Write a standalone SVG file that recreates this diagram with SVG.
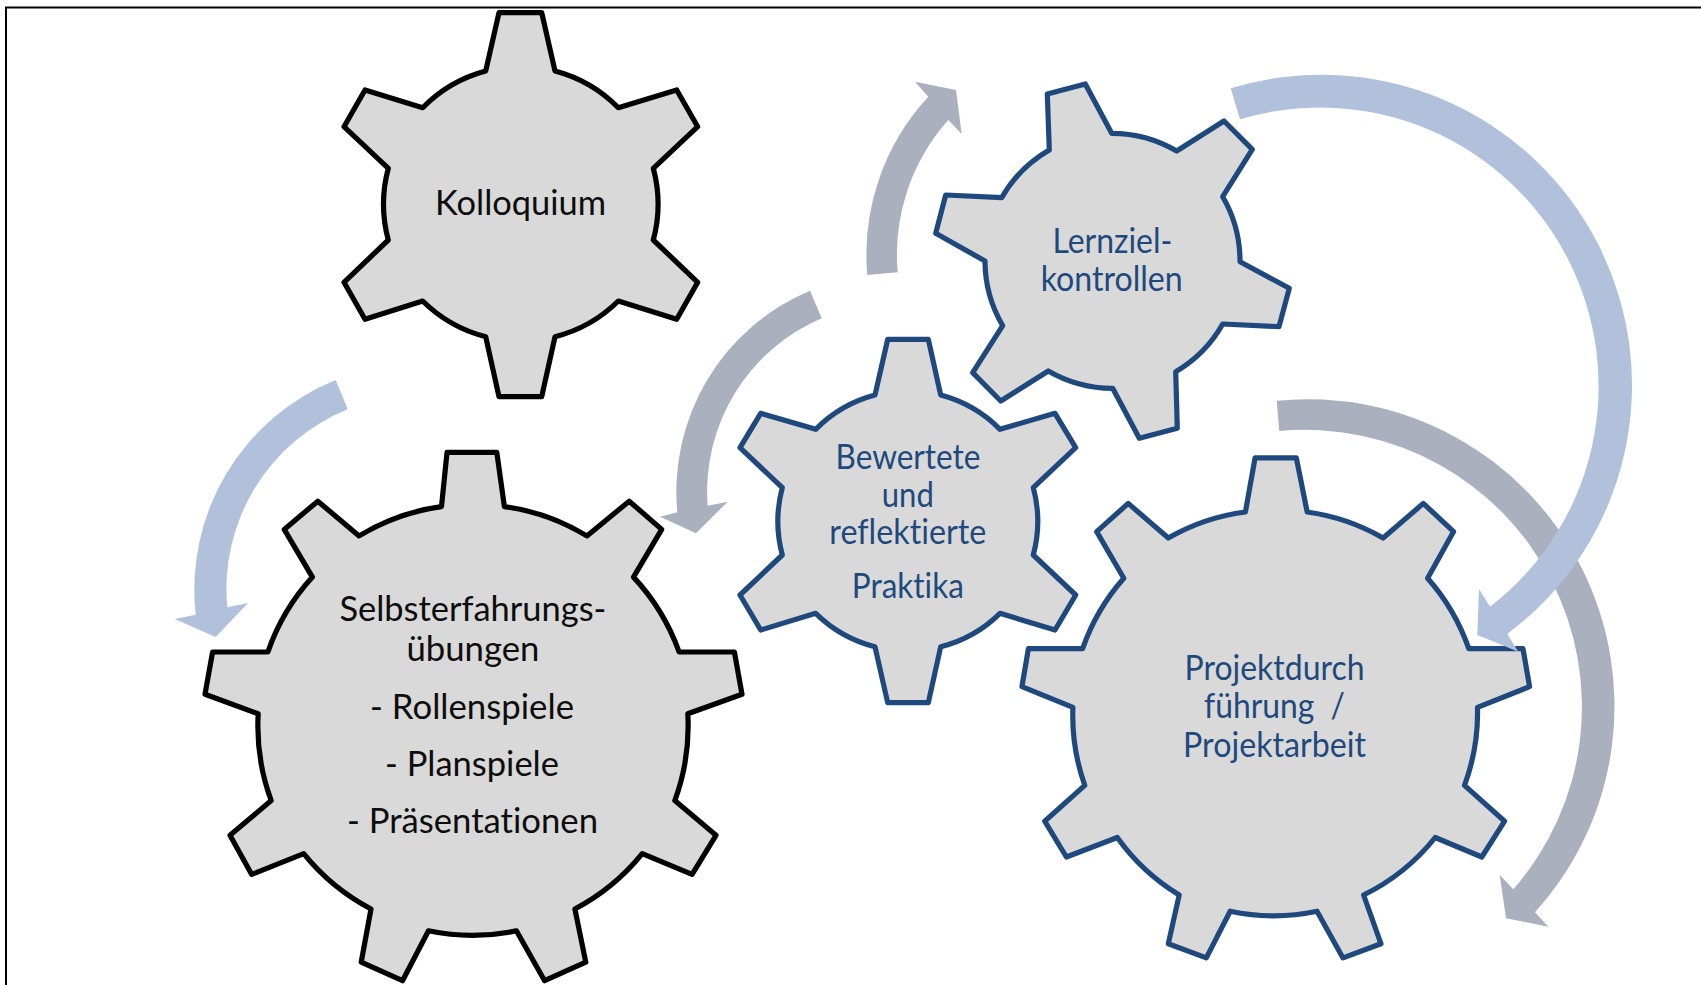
<svg xmlns="http://www.w3.org/2000/svg" width="1701" height="985" viewBox="0 0 1701 985">
<style>
.g{fill:#D9D9D9;stroke-width:5.2;stroke-linejoin:round}
.k{stroke:#000}
.n{stroke:#1F497D}
text{font-family:"Lato","Open Sans",sans-serif;font-size:34px;text-anchor:middle;font-variant-ligatures:none}
.tk{fill:#0d0d0d}
.tn{fill:#1F497D}
.b{fill:#B1C1DC}
.y{fill:#ABB0BE}
</style>
<rect width="1701" height="985" fill="#fff"/>
<path d="M1701 7.5H6V985" fill="none" stroke="#000" stroke-width="2"/>
<g id="node-kolloquium">
<path class="g k" d="M499 12.7H541.7L555 71A138 138 0 0 1 618.3 107.7L676.7 90L697.7 126.7L653.3 168.3A138 138 0 0 1 653.3 240L697.7 282.3L676.7 319.3L618.3 301A138 138 0 0 1 555 336.7L541.7 396.7H499L485.7 336.7A138 138 0 0 1 422.7 301L365 319.3L344 282.3L388.3 240A138 138 0 0 1 388.3 168.3L344 126.7L365 90L422.7 107.7A138 138 0 0 1 485.7 71Z"/>
<text class="tk" x="520.5" y="215" textLength="171" lengthAdjust="spacingAndGlyphs">Kolloquium</text>
</g>
<g id="node-lernziel">
<path class="g n" d="M1047.3 94L1085.3 84L1111.7 133.3A128 128 0 0 1 1176.7 151L1224 121L1252.3 149.3L1222.7 196.7A128 128 0 0 1 1240 261.7L1289.3 288.3L1279 326.7L1222.7 324A128 128 0 0 1 1175.7 371.7L1177.3 428.3L1139.3 438.3L1112.7 388.3A128 128 0 0 1 1048.3 371L1000.7 401L972.7 372.7L1002.7 325.7A128 128 0 0 1 985 261L935.7 233.3L945.7 195L1001.7 197.7A128 128 0 0 1 1049.3 150Z"/>
<text class="tn" x="1112.4" y="252.7" textLength="120" lengthAdjust="spacingAndGlyphs">Lernziel-</text>
<text class="tn" x="1111.7" y="290.8" textLength="142" lengthAdjust="spacingAndGlyphs">kontrollen</text>
</g>
<g id="node-bewertete">
<path class="g n" d="M887.7 339.3H928.3L940.7 395A130 130 0 0 1 1000 429.3L1055 413.3L1075.7 447.7L1033.3 487.7A130 130 0 0 1 1033.3 555L1075.7 595L1055 630L1000 613.3A130 130 0 0 1 940.7 646.7L928.3 702.7H887.7L875 646.7A130 130 0 0 1 815.7 613.3L760.7 630L740 595L782.3 555A130 130 0 0 1 782.3 487.7L740 447.7L760.7 413.3L815.7 429.3A130 130 0 0 1 875 395Z"/>
<text class="tn" x="908" y="468.7" textLength="145" lengthAdjust="spacingAndGlyphs">Bewertete</text>
<text class="tn" x="907.8" y="506.5" textLength="52" lengthAdjust="spacingAndGlyphs">und</text>
<text class="tn" x="907.8" y="544" textLength="157" lengthAdjust="spacingAndGlyphs">reflektierte</text>
<text class="tn" x="907.8" y="597.5" textLength="112" lengthAdjust="spacingAndGlyphs">Praktika</text>
</g>
<g id="node-selbsterfahrung">
<path class="g k" d="M447 452.4H496.8L504.4 506.6A215 215 0 0 1 586.9 535.9L629.2 501.2L661.7 529.4L633.5 577.1A215 215 0 0 1 679.1 652H734.4L742 694.3L687.8 713.8A215 215 0 0 1 674.8 800.6L716 835.3L692.1 874.4L642.2 853.7A215 215 0 0 1 574.9 909L585.8 962.2L544.6 980.7L516.4 930.8A215 215 0 0 1 428.5 930.8L402.5 980.7L361.2 962.2L371 909A215 215 0 0 1 303.7 853.7L251.7 874.4L230 835.3L271.2 800.6A215 215 0 0 1 258.2 713.8L205 694.3L212.6 652H267.9A215 215 0 0 1 312.4 577.1L284.2 529.4L317.8 501.2L359.1 535.9A215 215 0 0 1 441.5 506.6Z"/>
<text class="tk" x="472.9" y="620.5" textLength="267" lengthAdjust="spacingAndGlyphs">Selbsterfahrungs-</text>
<text class="tk" x="472.9" y="661" textLength="133" lengthAdjust="spacingAndGlyphs">übungen</text>
<text class="tk" x="472" y="718.5" textLength="204" lengthAdjust="spacingAndGlyphs">- Rollenspiele</text>
<text class="tk" x="472" y="776" textLength="174" lengthAdjust="spacingAndGlyphs">- Planspiele</text>
<text class="tk" x="472.5" y="833" textLength="251" lengthAdjust="spacingAndGlyphs">- Präsentationen</text>
</g>
<g id="node-projekt">
<path class="g n" d="M1255.1 457.8H1296.3L1307.2 512A209 209 0 0 1 1383.1 538L1423.3 503.4L1453.6 531.6L1427.6 578.2A209 209 0 0 1 1468.8 648.7H1523L1529.6 686.7L1477.5 707.3A209 209 0 0 1 1464.5 785.4L1504.6 821.2L1481.8 857L1435.2 837.5A209 209 0 0 1 1363.6 895L1381 943.8L1343 957.9L1317 911.2A209 209 0 0 1 1230.2 911.2L1206.3 957.9L1168.3 943.8L1179.2 895A209 209 0 0 1 1117.3 837.5L1066.4 857L1044.7 821.2L1084.8 785.4A209 209 0 0 1 1072.9 707.3L1021.9 686.7L1028.4 648.7H1082.6A209 209 0 0 1 1123.8 578.2L1096.7 531.6L1128.2 503.4L1168.3 538A209 209 0 0 1 1245.4 512Z"/>
<text class="tn" x="1274.6" y="680" textLength="180" lengthAdjust="spacingAndGlyphs">Projektdurch</text>
<text class="tn" x="1274.5" y="718" xml:space="preserve" textLength="141" lengthAdjust="spacingAndGlyphs">führung  /</text>
<text class="tn" x="1274.6" y="756.5" textLength="183" lengthAdjust="spacingAndGlyphs">Projektarbeit</text>
</g>
<g id="connectors">
<path id="arrow-grey-right" class="y" d="M1276.7 400.7A307 307 0 0 1 1535 912.3L1548.3 926.7L1506 918.3L1499.7 875L1513.3 889.3A277 277 0 0 0 1279.3 431Z"/>
<path id="arrow-blue-right" class="b" d="M1230.7 88.3A310.5 310.5 0 0 1 1507.3 634L1518.3 651.7L1477.3 635L1479 589L1490 606.7A278.5 278.5 0 0 0 1240 119.3Z"/>
<path id="arrow-blue-left" class="b" d="M335.7 380A226 226 0 0 0 195.7 614.7L174.7 619L215.7 637L248 603L227.3 607.3A194 194 0 0 1 347.7 409.3Z"/>
<path id="arrow-grey-lower" class="y" d="M810 290.7A218 218 0 0 0 677.3 512.3L660 516.7L696 533.3L727.7 501.7L707.7 505.7A188 188 0 0 1 821.7 318.3Z"/>
<path id="arrow-grey-upper" class="y" d="M867.3 275A232 232 0 0 1 928.3 96.7L915 81.7L956 90L961.7 134L948.3 120A202 202 0 0 0 897.7 272.3Z"/>
</g>
</svg>
